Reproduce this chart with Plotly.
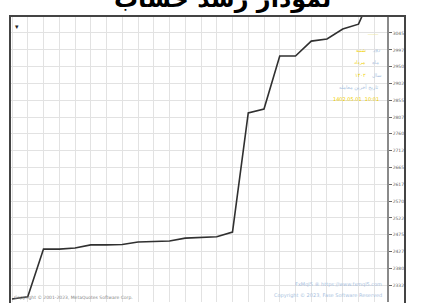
import plotly.graph_objects as go

# ---- data ----
trade_index = list(range(24))
balance = [2293, 2299, 2434, 2434, 2437, 2446, 2446, 2447, 2454, 2455, 2457, 2465,
           2468, 2469, 2482, 2819, 2830, 2980, 2980, 3022, 3028, 3056, 3070, 3170]
tick_values = [2332, 2380, 2427, 2475, 2522, 2570, 2617, 2665, 2712, 2760,
               2807, 2855, 2902, 2950, 2997, 3045]
tick_labels = [str(v) for v in tick_values]

info_rows_label = ["", "روز", "ماه", "سال", "تاریخ آخرین معامله", ""]
info_rows_value = ["ـــــــ", "شنبه", "مرداد", "۱۴۰۲", "", "1402.05.01  10:01"]

W, H = 424, 303
L, R, T, B = 10, 37, 16, 1
pw, ph = W - L - R, H - T - B

fig = go.Figure()
fig.add_trace(go.Scatter(x=trade_index, y=balance, mode="lines",
                         line=dict(color="#303030", width=1.6),
                         hoverinfo="skip", showlegend=False))

fig.update_layout(
    width=W, height=H, margin=dict(l=L, r=R, t=T, b=B, pad=0),
    paper_bgcolor="white", plot_bgcolor="white",
    font=dict(family="DejaVu Sans", size=5, color="#777"),
    xaxis=dict(range=[-0.127, 23.81], dtick=1, tick0=0, showticklabels=False,
               showgrid=True, gridcolor="#e2e2e2", gridwidth=1, zeroline=False,
               showline=False, ticks="", automargin=False),
    yaxis=dict(range=[2284.5, 3093], side="right", tickvals=tick_values,
               ticktext=tick_labels, ticks="outside", ticklen=3, tickcolor="#666",
               tickfont=dict(size=4.5, color="#666"), automargin=False,
               showgrid=True, gridcolor="#e2e2e2", gridwidth=1, zeroline=False,
               showline=True, linecolor="#8a8a8a", linewidth=1.5, mirror=False),
)

# outer frame
fig.add_shape(type="rect", xref="paper", yref="paper", x0=0, x1=(405 - L) / pw,
              y0=-0.01, y1=1, line=dict(color="#444", width=2))

def px_x(p):
    return (p - L) / pw

def px_y(p):
    return 1 - (p - T) / ph

# title, mostly above the top edge (only the bottom of the letters shows)
fig.add_annotation(text="<b>نمودار رشد حساب</b>", xref="paper", yref="paper",
                   x=px_x(222), y=px_y(15), showarrow=False, xanchor="center",
                   yanchor="bottom",
                   font=dict(family="DejaVu Sans", size=24, color="black"))

# small marker at top-left
fig.add_annotation(text="▾", xref="paper", yref="paper", x=px_x(13), y=px_y(21),
                   showarrow=False, font=dict(size=7, color="#222"))

# info block (right top)
rows_y = [33, 50, 62, 75, 87, 99]
for ry, lab, val in zip(rows_y, info_rows_label, info_rows_value):
    if lab and val:
        fig.add_annotation(text=val, xref="paper", yref="paper", x=px_x(368),
                           y=px_y(ry), xanchor="right", yanchor="middle",
                           showarrow=False,
                           font=dict(family="DejaVu Sans", size=5, color="#f0d000"))
        fig.add_annotation(text=lab, xref="paper", yref="paper", x=px_x(370),
                           y=px_y(ry), xanchor="left", yanchor="middle",
                           showarrow=False,
                           font=dict(family="DejaVu Sans", size=5, color="#a9bfe0"))
    elif lab:
        fig.add_annotation(text=lab, xref="paper", yref="paper", x=px_x(381),
                           y=px_y(ry), xanchor="right", yanchor="middle",
                           showarrow=False,
                           font=dict(family="DejaVu Sans", size=5, color="#a9bfe0"))
    else:
        col = "#f0e8a0" if ry == 33 else "#f0d000"
        fig.add_annotation(text=val, xref="paper", yref="paper", x=px_x(381),
                           y=px_y(ry), xanchor="right", yanchor="middle",
                           showarrow=False,
                           font=dict(family="DejaVu Sans", size=5, color=col))

# bottom texts
fig.add_annotation(text="Copyright © 2001-2023, MetaQuotes Software Corp.",
                   xref="paper", yref="paper", x=px_x(12), y=px_y(297),
                   xanchor="left", yanchor="middle", showarrow=False,
                   font=dict(family="DejaVu Sans", size=4.5, color="#888"))
fig.add_annotation(text="FxMql5 ® https://www.fxmql5.com", xref="paper", yref="paper",
                   x=px_x(384), y=px_y(284), xanchor="right", yanchor="middle",
                   showarrow=False,
                   font=dict(family="DejaVu Sans", size=5, color="#a9bfe0"))
fig.add_annotation(text="Copyright © 2023, Fase Software Reserved", xref="paper",
                   yref="paper", x=px_x(384), y=px_y(295), xanchor="right",
                   yanchor="middle", showarrow=False,
                   font=dict(family="DejaVu Sans", size=5, color="#a9bfe0"))

fig.write_html("out.html", config={"displayModeBar": False},
               post_script="document.body.style.margin='0';"
                           "document.body.style.overflow='hidden';")
